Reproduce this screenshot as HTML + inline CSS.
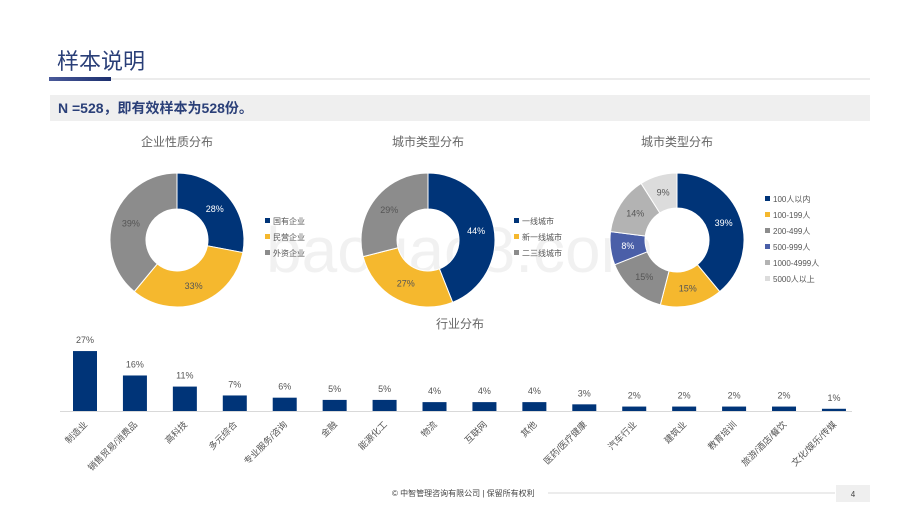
<!DOCTYPE html>
<html><head><meta charset="utf-8"><style>
body{margin:0;width:920px;height:518px;background:#fff;overflow:hidden;font-family:"Liberation Sans","Noto Sans CJK SC",sans-serif;}
svg{display:block}
</style></head><body>
<svg id="s" width="920" height="518" xmlns="http://www.w3.org/2000/svg" font-family="Liberation Sans, Noto Sans CJK SC, sans-serif">
<defs><linearGradient id="g" x1="0" x2="1"><stop offset="0" stop-color="#4a5a9a"/><stop offset="1" stop-color="#1c2f6e"/></linearGradient></defs>
<text x="57" y="69" font-size="22" fill="#2a3f78">样本说明</text>
<rect x="49" y="77" width="62" height="4" fill="url(#g)"/>
<line x1="111" y1="79" x2="870" y2="79" stroke="#d8d8d8" stroke-width="1"/>
<rect x="50" y="95" width="820" height="26" fill="#efefef"/>
<text x="58" y="113" font-size="14" font-weight="bold" fill="#2a3f78">N =528，即有效样本为528份。</text>
<text x="460" y="272" font-size="64" fill="#000" opacity="0.05" text-anchor="middle">baogao8.com</text>
<g id="charts"></g>
<text x="392" y="496" font-size="8" fill="#444">© 中智管理咨询有限公司 | 保留所有权利</text>
<line x1="548" y1="493" x2="835" y2="493" stroke="#d8d8d8"/>
<rect x="836" y="485" width="34" height="17" fill="#efefef"/>
<text x="853" y="497" font-size="8" fill="#444" text-anchor="middle">4</text>
</svg>
<script>
const NS='http://www.w3.org/2000/svg';
const root=document.getElementById('charts');
function mk(t,a,p){const e=document.createElementNS(NS,t);for(const k in a)e.setAttribute(k,a[k]);(p||root).appendChild(e);return e;}
const navy='#003478',yellow='#f5b82e',gray='#8c8c8c',blue='#4a5fa8',lgray='#b3b3b3',vlgray='#dcdcdc';

const d1Labels=['国有企业','民营企业','外资企业'];
const d1Values=[28,33,39];
const d2Labels=['一线城市','新一线城市','二三线城市'];
const d2Values=[44,27,29];
const d3Labels=['100人以内','100-199人','200-499人','500-999人','1000-4999人','5000人以上'];
const d3Values=[39,15,15,8,14,9];

const indCats=['制造业','销售贸易/消费品','高科技','多元综合','专业服务/咨询','金融','能源化工','物流','互联网','其他','医药/医疗健康','汽车行业','建筑业','教育培训','旅游/酒店/餐饮','文化/娱乐/传媒'];
const indValues=[27,16,11,7,6,5,5,4,4,4,3,2,2,2,2,1];

function donut(name,title,cx,cy,R,r,labels,values,colors,textColors,lx,ly,lstep){
  const g=mk('g',{});
  
  
  const t=mk('text',{x:cx,y:146,'font-size':12,fill:'#666','text-anchor':'middle'},g);t.textContent=title;
  
  
  const tot=values.reduce((a,b)=>a+b,0);let a0=-Math.PI/2;
  values.forEach((v,i)=>{
    const a1=a0+v/tot*2*Math.PI,lg=(a1-a0)>Math.PI?1:0;
    const P=(rr,a)=>[cx+rr*Math.cos(a),cy+rr*Math.sin(a)];
    const [x1,y1]=P(R,a0),[x2,y2]=P(R,a1),[x3,y3]=P(r,a1),[x4,y4]=P(r,a0);
    const p=mk('path',{d:`M${x1},${y1}A${R},${R} 0 ${lg} 1 ${x2},${y2}L${x3},${y3}A${r},${r} 0 ${lg} 0 ${x4},${y4}Z`,fill:colors[i],stroke:'#fff','stroke-width':1},g);
    
    
    const am=(a0+a1)/2,[tx,ty]=P((R+r)/2,am);
    const lt=mk('text',{x:tx,y:ty+3,'font-size':9,fill:textColors[i],'text-anchor':'middle'},g);lt.textContent=v+'%';
    
    
    const le=mk('rect',{x:lx,y:ly+i*lstep-5,width:5,height:5,fill:colors[i]},g);
    
    
    const ltx=mk('text',{x:lx+8,y:ly+i*lstep+1,'font-size':8,fill:'#555'},g);ltx.textContent=labels[i];
    
    
    a0=a1;
  });
}
donut('ownership-donut','企业性质分布',177,240,67,31,d1Labels,d1Values,[navy,yellow,gray],['#fff','#555','#555'],265,223,16);
donut('city-donut','城市类型分布',428,240,67,31,d2Labels,d2Values,[navy,yellow,gray],['#fff','#555','#555'],514,223,16);
donut('size-donut','城市类型分布',677,240,67,32,d3Labels,d3Values,[navy,yellow,gray,blue,lgray,vlgray],['#fff','#555','#555','#fff','#555','#555'],765,201,16);

// bar chart
const bg=mk('g',{});


const bt=mk('text',{x:460,y:328,'font-size':12,fill:'#666','text-anchor':'middle'},bg);bt.textContent='行业分布';


const base=411,pxPer=2.22,x0=85,step=49.93,bw=24;
const xs=i=>x0+i*step, ys=v=>base-v*pxPer;
mk('line',{x1:60,y1:base+0.5,x2:852,y2:base+0.5,stroke:'#d9d9d9'},bg);
indValues.forEach((v,i)=>{
  const b=mk('rect',{x:xs(i)-bw/2,y:ys(v),width:bw,height:base-ys(v),fill:navy},bg);
  
  
  const t=mk('text',{x:xs(i),y:ys(v)-8,'font-size':9,fill:'#555','text-anchor':'middle'},bg);t.textContent=v+'%';
  
  
  const c=mk('text',{x:xs(i)+3,y:base+14,'font-size':9,fill:'#555','text-anchor':'end',transform:`rotate(-45 ${xs(i)+3} ${base+14})`},bg);c.textContent=indCats[i];
  
  
});
</script>
</body></html>
